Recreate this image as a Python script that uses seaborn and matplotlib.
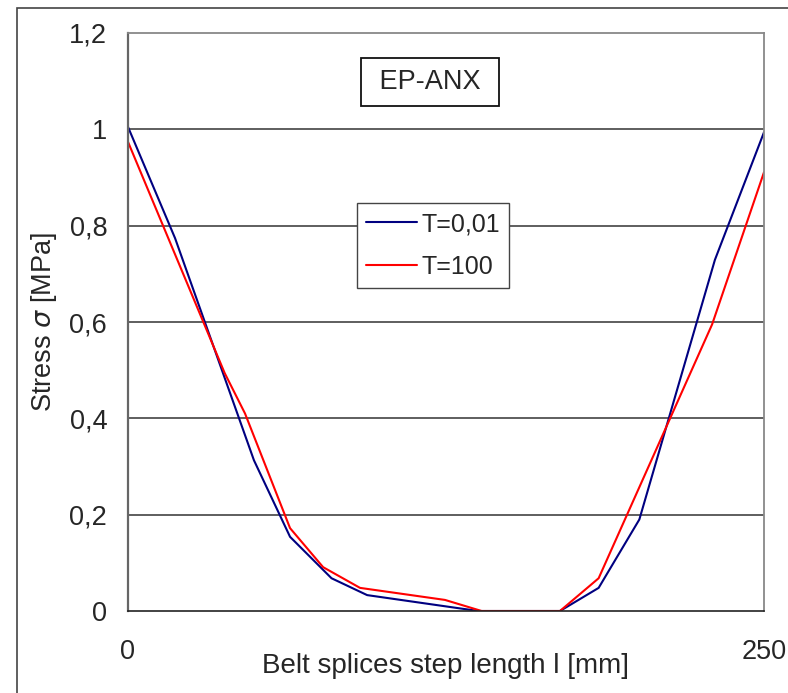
import matplotlib
matplotlib.use("Agg")
import matplotlib.pyplot as plt
import seaborn as sns
import pandas as pd
from matplotlib.patches import Rectangle

# data
x_t001 = [0, 18.5, 49.5, 63.7, 80, 94, 131, 138, 169.8, 185, 201, 230.7, 250]
y_t001 = [1.005, 0.774, 0.313, 0.154, 0.068, 0.033, 0.005, 0.0, 0.0, 0.048, 0.19, 0.729, 0.994]
x_t100 = [0, 38, 46, 63.7, 76.7, 91.2, 124.6, 139, 169.8, 185, 229.6, 250]
y_t100 = [0.974, 0.494, 0.41, 0.172, 0.091, 0.048, 0.023, 0.0, 0.0, 0.068, 0.595, 0.911]
series_names = ["T=0,01", "T=100"]
y_ticks = [0, 0.2, 0.4, 0.6, 0.8, 1.0, 1.2]
y_tick_labels = ["0", "0,2", "0,4", "0,6", "0,8", "1", "1,2"]
x_ticks = [0, 250]
x_tick_labels = ["0", "250"]

df = pd.concat([
    pd.DataFrame({"x": x_t001, "y": y_t001, "series": series_names[0]}),
    pd.DataFrame({"x": x_t100, "y": y_t100, "series": series_names[1]}),
], ignore_index=True)

sns.set_style("white")
plt.rcParams["font.family"] = ["Liberation Sans", "DejaVu Sans"]
plt.rcParams["mathtext.fontset"] = "dejavusans"

FS = 19.5

fig = plt.figure(figsize=(7.88, 6.93), dpi=100)
fig.patch.set_facecolor("white")
ax = fig.add_axes([128/788, 1-611/693, (764-128)/788, (611-33)/693])

# outer frame
fig.patches.append(Rectangle((17/788, -0.05), 1.2, 1.05 - 8/693, transform=fig.transFigure,
                             fill=False, edgecolor="#444444", linewidth=1.2, zorder=0))

sns.lineplot(data=df, x="x", y="y", hue="series", sort=False, estimator=None,
             palette={series_names[0]: "#000080", series_names[1]: "#ff0000"},
             linewidth=1.5, ax=ax)

ax.set_xlim(0, 250)
ax.set_ylim(0, 1.2)
ax.set_yticks(y_ticks)
ax.set_yticklabels(y_tick_labels, fontsize=FS)
ax.set_xticks(x_ticks)
ax.set_xticklabels(x_tick_labels, fontsize=FS)
for yv in y_ticks[1:-1]:
    ax.axhline(yv, color="#333333", linewidth=1.1, zorder=0)

ax.tick_params(axis="y", direction="out", length=6, width=1, color="#333333", pad=9)
ax.tick_params(axis="x", direction="out", length=6.5, width=1, color="#333333", pad=14)

for s in ["top", "right"]:
    ax.spines[s].set_color("#888888")
    ax.spines[s].set_linewidth(1.3)
ax.spines["left"].set_color("#666666")
ax.spines["left"].set_linewidth(1.6)
ax.spines["bottom"].set_color("#222222")
ax.spines["bottom"].set_linewidth(1.2)

ax.set_xlabel("Belt splices step length l [mm]", fontsize=20, labelpad=-9)
ax.set_ylabel(r"Stress $\sigma$ [MPa]", fontsize=FS, labelpad=7)

leg = ax.legend(loc="upper left", bbox_to_anchor=((357-128)/636, 1-(203-33)/578),
                fontsize=18, frameon=True, fancybox=False, handlelength=2.05,
                borderpad=0.36, labelspacing=0.75, handletextpad=0.18, borderaxespad=0)
leg.get_frame().set_edgecolor("#444444")
leg.get_frame().set_linewidth(1.0)
leg.get_frame().set_alpha(1)

ax.text((430-128)/636, 1-(82-33)/578, " EP-ANX ", transform=ax.transAxes, ha="center", va="center",
        fontsize=FS, bbox=dict(boxstyle="square,pad=0.4", facecolor="white",
                               edgecolor="#111111", linewidth=1.3))

fig.savefig("out.png", dpi=100)
